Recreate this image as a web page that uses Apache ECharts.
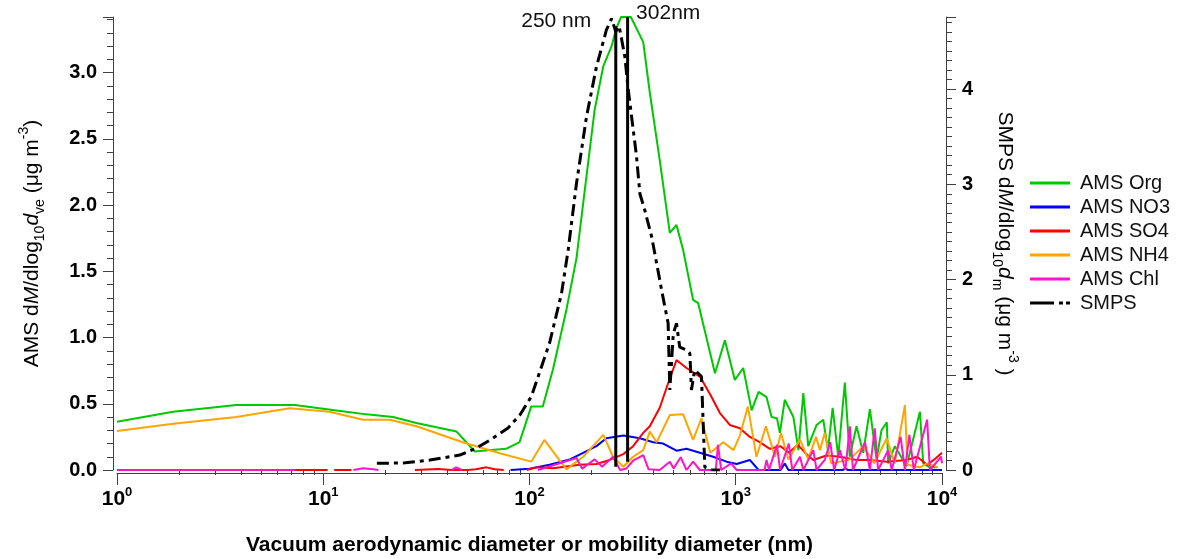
<!DOCTYPE html>
<html>
<head>
<meta charset="utf-8">
<script src="https://cdn.jsdelivr.net/npm/echarts@6/dist/echarts.min.js"></script>
<style>html,body{margin:0;padding:0;background:#fff}#c{width:1184px;height:559px}</style>
</head>
<body>
<div id="c"></div>
<script>
// ---- Data (diameter in nm, value) ----
const seriesNames = ['AMS Org', 'AMS NO3', 'AMS SO4', 'AMS NH4', 'AMS Chl', 'SMPS'];
const xTickLabels = [1, 10, 100, 1000, 10000];

const orgData = [[1,0.365],[1.87,0.44],[3.79,0.49],[7.28,0.49],[11.6,0.45],[16.2,0.42],[21.8,0.40],[28.3,0.355],[44.3,0.29],[54.3,0.14],[63,0.15],[77,0.16],[89.5,0.21],[102,0.48],[116,0.48],[130,0.76],[151,1.21],[169,1.6],[189,2.22],[207,2.72],[228,3.05],[250,3.2],[263,3.33],[278,3.42],[310,3.42],[356,3.23],[383,2.85],[428,2.34],[479,1.79],[516,1.85],[556,1.66],[621,1.285],[657,1.26],[793,0.73],[886,0.98],[990,0.68],[1087,0.77],[1194,0.45],[1290,0.59],[1410,0.55],[1493,0.40],[1584,0.39],[1637,0.28],[1728,0.53],[1903,0.40],[2013,0.15],[2126,0.58],[2246,0.18],[2466,0.34],[2656,0.38],[2800,0.15],[2950,0.47],[3140,0.10],[3380,0.66],[3570,0.10],[3850,0.33],[4150,0.13],[4470,0.46],[4815,0.08],[5090,0.30],[5400,0.36],[5485,0.05],[5910,0.18],[6735,0.03],[7815,0.44],[8110,0.05],[8735,0.02],[9500,0.02]];

const no3Data = [[81,0],[100,0.01],[125,0.04],[157,0.08],[182,0.13],[211,0.18],[236,0.24],[285,0.26],[343,0.24],[398,0.21],[445,0.20],[516,0.146],[577,0.16],[670,0.13],[777,0.10],[902,0.063],[1010,0.045],[1170,0.076],[1290,0.0],[1650,0.0],[1728,0.05],[1800,0.0],[3300,0.0],[3400,0.01],[3500,0.0],[10000,0.0]];

const so4Data = [[7.3,0],[10.5,0],null,[11.3,0],[13.7,0],null,[27.8,0],[36,0.008],[42,0],[50,0],[55,0.005],[61.7,0.02],[68,0.005],[75,0],null,[97,0],[108,0.02],[130,0.013],[175,0.04],[211,0.045],[245,0.076],[285,0.12],[318,0.18],[356,0.28],[383,0.33],[428,0.47],[470,0.655],[516,0.83],[577,0.77],[670,0.705],[752,0.57],[838,0.43],[936,0.34],[1047,0.315],[1170,0.25],[1308,0.21],[1462,0.16],[1650,0.18],[1808,0.13],[2000,0.19],[2200,0.12],[2376,0.076],[2750,0.11],[3200,0.10],[3850,0.076],[4470,0.076],[5400,0.063],[6735,0.076],[7570,0.10],[8470,0.04],[9120,0.076],[10000,0.13]];

const nh4Data = [[1,0.295],[1.87,0.35],[3.79,0.40],[6.87,0.466],[10.7,0.44],[15.6,0.38],[21,0.38],[28.3,0.33],[47.5,0.21],[71.8,0.126],[102,0.063],[118,0.227],[151,0.005],[182,0.10],[228,0.265],[254,0.10],[285,0.025],[318,0.10],[356,0.15],[383,0.29],[414,0.21],[479,0.415],[556,0.42],[621,0.227],[682,0.39],[752,0.13],[870,0.21],[975,0.15],[1047,0.26],[1145,0.48],[1260,0.10],[1400,0.33],[1550,0.10],[1657,0.28],[1800,0.08],[2049,0.23],[2246,0.08],[2450,0.25],[2560,0.15],[2700,0.28],[2900,0.05],[3574,0.08],[4150,0.18],[4700,0.05],[5400,0.24],[5900,0.05],[6610,0.49],[6800,0.04],[7800,0.02],[8500,0.05],[9500,0.02]];

const chlData = [[1,0],[7.3,0],null,[14,0],[15.6,0.013],[17.5,0.005],[18.5,0],null,[42,0],[44,0.02],[47,0],null,[110,0],[169,0.09],[180,0.01],[207,0.08],[225,0.025],[254,0.10],[275,0],[295,0.012],[318,0.07],[356,0.113],[378,0.005],[428,0.0],[479,0.063],[500,0.012],[541,0.096],[577,0],[621,0.063],[670,0],[800,0],[820,0.19],[850,0],[950,0.05],[1010,0],[1380,0],[1410,0.076],[1450,0],[1584,0.19],[1640,0],[1808,0.2],[1880,0],[2049,0.10],[2126,0],[2376,0.15],[2466,0],[2700,0.076],[2870,0.21],[3000,0],[3200,0.15],[3400,0],[3574,0.33],[3700,0],[4233,0.21],[4470,0],[4720,0.315],[4900,0],[5485,0.15],[5700,0],[6300,0.25],[6610,0],[6950,0.265],[7300,0],[8470,0.38],[8735,0],[9900,0.10],[10000,0.05]];

const smpsData = [[18.2,0.07],[25,0.075],[32.9,0.105],[45.9,0.157],[55.3,0.23],[65,0.32],[78.7,0.44],[90,0.58],[102,0.77],[125,1.33],[143,1.855],[154,2.31],[169,3.01],[189,3.71],[211,4.23],[236,4.62],[250,4.74],[262,4.6],[272,4.66],[290,4.34],[300,4.02],[330,3.3],[343,2.9],[362,2.73],[391,2.45],[437,1.89],[470,1.54],[479,0.84],[498,1.43],[516,1.54],[535,1.29],[577,1.26],[599,1.225],[610,0.84],[632,1.05],[682,0.98],[708,0.03],[760,0.0],[838,0.0]];

const peakLine1 = [[262,0.025],[262,3.35]];
const peakLine2 = [[299,0.063],[299,3.42]];
const peakLabels = ['250 nm', '302nm'];

const colors = ['#00c800', '#0000ff', '#ff0000', '#ffa500', '#ff14c8', '#000000'];

// minor ticks for the log axis (2..9 in each decade)
const minorTickValues = [];
for (let d = 1; d < 10000; d *= 10) for (let k = 2; k <= 9; k++) minorTickValues.push(k * d);

const FONT = 'Liberation Sans, Arial, sans-serif';
const axisColor = '#404040';

// legend icons: plain line for AMS, long-dash + dots for SMPS
const solidIcon = 'path://M0,0H40V3H0Z';
const dashDotIcon = 'path://M0,0H24V3H0Z M29,0H33V3H29Z M36,0H40V3H36Z';

const chart = echarts.init(document.getElementById('c'), null, {renderer: 'canvas'});

function lineSeries(name, data, color, yIdx, extra) {
  return Object.assign({
    name: name, type: 'line', data: data, xAxisIndex: 0, yAxisIndex: yIdx,
    symbol: 'none', connectNulls: false, animation: false,
    lineStyle: {color: color, width: 2}, itemStyle: {color: color}
  }, extra || {});
}

function peakSeries(data, text, pos, offset) {
  return {
    type: 'line', xAxisIndex: 0, yAxisIndex: 0, animation: false, silent: true,
    symbol: 'circle', symbolSize: 1, showSymbol: true,
    itemStyle: {color: 'rgba(0,0,0,0)'},
    lineStyle: {color: '#000', width: 3},
    data: [data[0], {value: data[1], label: {
      show: true, formatter: text, position: pos, distance: 0, offset: offset,
      color: '#111', fontSize: 21, fontFamily: FONT
    }}]
  };
}

const nameRich = {
  i: {fontSize: 21, fontStyle: 'italic', fontFamily: FONT, color: '#000', lineHeight: 30},
  sub: {fontSize: 14, fontFamily: FONT, color: '#000', verticalAlign: 'bottom', lineHeight: 30, padding: [7, 0, 0, 0]},
  sup: {fontSize: 14, fontFamily: FONT, color: '#000', verticalAlign: 'top', lineHeight: 30, padding: [0, 0, 9, 0]}
};

const option = {
  backgroundColor: '#fff',
  animation: false,
  grid: {left: 117, right: 242, top: 17, bottom: 89, containLabel: false, outerBoundsMode: 'none'},
  legend: {
    orient: 'vertical', left: 1030, top: 173, padding: 0,
    itemWidth: 40, itemHeight: 3, itemGap: 4,
    data: seriesNames.map(function (n, i) { return {name: n, icon: i === 5 ? dashDotIcon : solidIcon}; }),
    textStyle: {fontSize: 20, lineHeight: 20, color: '#111', fontFamily: FONT, padding: [0, 0, 0, 5]}
  },
  xAxis: [{
    type: 'log', logBase: 10, min: 1, max: 10000, position: 'bottom', offset: 3,
    axisLine: {show: true, onZero: false, lineStyle: {color: axisColor, width: 1}},
    axisTick: {show: true, inside: false, length: 12, lineStyle: {color: axisColor}},
    splitLine: {show: false},
    axisLabel: {
      margin: 13, color: '#000', fontFamily: FONT, fontWeight: 'bold', fontSize: 21,
      formatter: function (v) { return '10{sup|' + Math.round(Math.log10(v)) + '}'; },
      rich: {sup: {fontSize: 13, fontWeight: 'bold', fontFamily: FONT, color: '#000', verticalAlign: 'top', padding: [0, 0, 14, 0]}}
    },
    name: 'Vacuum aerodynamic diameter or mobility diameter (nm)',
    nameLocation: 'middle', nameGap: 62,
    nameTextStyle: {fontSize: 21, fontWeight: 'bold', color: '#000', fontFamily: FONT}
  }, {
    type: 'log', logBase: 10, min: 1, max: 10000, position: 'bottom', offset: 3,
    axisLine: {show: false},
    axisTick: {show: true, inside: false, length: 5, customValues: minorTickValues, lineStyle: {color: axisColor}},
    axisLabel: {show: false},
    splitLine: {show: false}
  }],
  yAxis: [{
    type: 'value', min: 0, max: 3.42, interval: 0.5, position: 'left', offset: 4,
    axisLine: {show: true, lineStyle: {color: axisColor}},
    axisTick: {show: true, length: 10, lineStyle: {color: axisColor}},
    minorTick: {show: true, splitNumber: 5, length: 6, lineStyle: {color: axisColor}},
    splitLine: {show: false},
    axisLabel: {
      showMaxLabel: false, margin: 16, color: '#000', fontFamily: FONT, fontWeight: 'bold', fontSize: 20,
      formatter: function (v) { return v.toFixed(1); }
    },
    name: 'AMS d{i|M}/dlog{sub|10}{i|d}{sub|ve} (μg m{sup|-3})',
    nameLocation: 'middle', nameGap: 66, nameRotate: 90,
    nameTextStyle: {fontSize: 21, color: '#000', fontFamily: FONT, lineHeight: 30, rich: nameRich}
  }, {
    type: 'value', min: 0, max: 4.756, interval: 1, position: 'right', offset: 4,
    axisLine: {show: true, lineStyle: {color: axisColor}},
    axisTick: {show: true, length: 10, lineStyle: {color: axisColor}},
    minorTick: {show: true, splitNumber: 10, length: 6, lineStyle: {color: axisColor}},
    splitLine: {show: false},
    axisLabel: {
      showMaxLabel: false, margin: 16, color: '#000', fontFamily: FONT, fontWeight: 'bold', fontSize: 20
    },
    name: 'SMPS d{i|M}/dlog{sub|10}{i|d}{sub|m} (μg m{sup|-3} )',
    nameLocation: 'middle', nameGap: 44, nameRotate: -90,
    nameTextStyle: {fontSize: 21, color: '#000', fontFamily: FONT, lineHeight: 30, rich: nameRich}
  }],
  series: [
    lineSeries(seriesNames[0], orgData, colors[0], 0),
    lineSeries(seriesNames[1], no3Data, colors[1], 0),
    lineSeries(seriesNames[2], so4Data, colors[2], 0),
    lineSeries(seriesNames[3], nh4Data, colors[3], 0),
    lineSeries(seriesNames[4], chlData, colors[4], 0),
    lineSeries(seriesNames[5], smpsData, colors[5], 1, {lineStyle: {color: '#000', width: 3, type: [12, 5, 4, 5]}}),
    peakSeries(peakLine1, peakLabels[0], 'left', [-24, -5]),
    peakSeries(peakLine2, peakLabels[1], 'right', [8, -4])
  ]
};
chart.setOption(option);
</script>
</body>
</html>
